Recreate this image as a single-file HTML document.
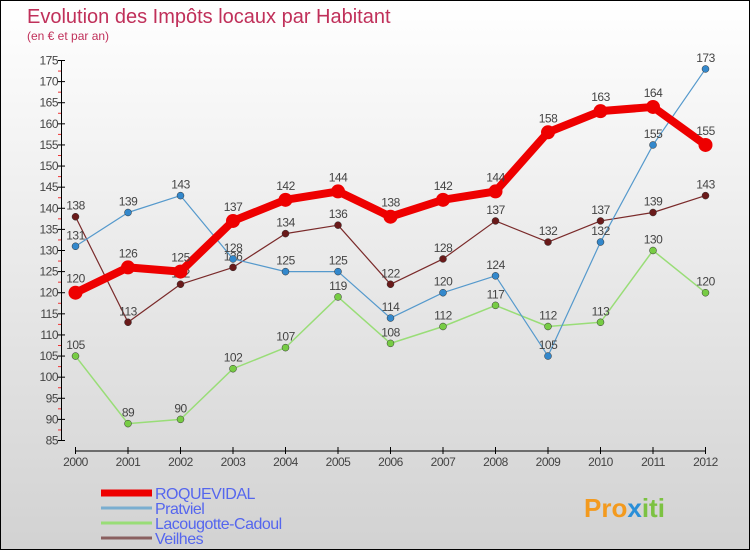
<!DOCTYPE html>
<html><head><meta charset="utf-8"><style>
body{margin:0;}
#c{width:748px;height:548px;border:1px solid #000;background:linear-gradient(#ffffff,#d2d2d2);position:relative;overflow:hidden;font-family:"Liberation Sans",sans-serif;}
text{font-family:"Liberation Sans",sans-serif;}
</style></head><body>
<div id="c">
<svg id="s" width="748" height="548" viewBox="0 0 748 548">
<text x="26" y="22" font-size="20" fill="#c0305a">Evolution des Impôts locaux par Habitant</text>
<text x="26" y="39" font-size="12" fill="#c0305a">(en € et par an)</text>
<g id="axes"></g><g id="series"></g><g id="legend"></g>
<text x="583" y="516" font-size="26" font-weight="bold" fill="#f39a1e">Pro<tspan fill="#2a8fd8">x</tspan><tspan fill="#7cc242">iti</tspan></text>
</svg></div>
<script>
const years=[2000,2001,2002,2003,2004,2005,2006,2007,2008,2009,2010,2011,2012];
const roquevidal=[120,126,125,137,142,144,138,142,144,158,163,164,155];
const pratviel=[131,139,143,128,125,125,114,120,124,105,132,155,173];
const lacougotte=[105,89,90,102,107,119,108,112,117,112,113,130,120];
const veilhes=[138,113,122,126,134,136,122,128,137,132,137,139,143];
const yTicks=[85,90,95,100,105,110,115,120,125,130,135,140,145,150,155,160,165,170,175];
const NS="http://www.w3.org/2000/svg";
const X=i=>74.5+i*52.5;
const Y=v=>59.5+(175-v)*380/90;
function mk(t,a,p){const e=document.createElementNS(NS,t);for(const k in a)e.setAttribute(k,a[k]);p.appendChild(e);return e;}
const ax=document.getElementById('axes');
let l=mk('line',{x1:60.5,y1:Y(175),x2:60.5,y2:Y(85),stroke:'#000'},ax);


yTicks.forEach((v,k)=>{
 mk('line',{x1:57,x2:64,y1:Y(v),y2:Y(v),stroke:'#000'},ax);
 if(k<yTicks.length-1) mk('line',{x1:57,x2:60,y1:Y(v+2.5),y2:Y(v+2.5),stroke:'#e33'},ax);
 const t=mk('text',{x:57,y:Y(v)+4,'font-size':12,fill:'#444','text-anchor':'end','letter-spacing':'-0.5'},ax);
 t.textContent=v;
 
 
});
l=mk('line',{x1:X(0),y1:450,x2:X(12),y2:450,stroke:'#000'},ax);


years.forEach((y,i)=>{
 mk('line',{x1:X(i),x2:X(i),y1:446,y2:453,stroke:'#000'},ax);
 const t=mk('text',{x:X(i),y:465,'font-size':12,fill:'#444','text-anchor':'middle','letter-spacing':'-0.5'},ax);
 t.textContent=y;
 
 
});
const defs=[
 {d:veilhes,c:'#7a2a2a',w:1.2,r:3.5,f:'#6a1a1a',n:'veilhes'},
 {d:lacougotte,c:'#99dd77',w:1.5,r:3.5,f:'#77cc44',n:'lacougotte-cadoul'},
 {d:pratviel,c:'#5599cc',w:1.2,r:3.5,f:'#3388cc',n:'pratviel'},
 {d:roquevidal,c:'#ee0000',w:8,r:7,f:'#ee0000',n:'roquevidal'}];
const sg=document.getElementById('series');
defs.forEach(s=>{
 const g=mk('g',{},sg);
 
 
 const p=mk('polyline',{points:s.d.map((v,i)=>X(i)+','+Y(v)).join(' '),fill:'none',stroke:s.c,'stroke-width':s.w,'stroke-linejoin':'round'},g);
 
 
 s.d.forEach((v,i)=>{
  const c=mk('circle',{cx:X(i),cy:Y(v),r:s.r,fill:s.f,stroke:s.w>2?'none':'#333','stroke-width':0.5},g);
  
  
  const t=mk('text',{x:X(i),y:Y(v)-(s.w>2?10:7),'font-size':12,fill:'#444','text-anchor':'middle','letter-spacing':'-0.5'},g);
  t.textContent=v;
  
  
 });
});
const lg=document.getElementById('legend');
[['ROQUEVIDAL','#ee0000',7],['Pratviel','#7aaed0',3],['Lacougotte-Cadoul','#99dd77',3],['Veilhes','#8a6060',3]].forEach((e,i)=>{
 const y=492+i*15;
 const g=mk('g',{},lg);
 
 
 mk('line',{x1:100,x2:151,y1:y,y2:y,stroke:e[1],'stroke-width':e[2]},g);
 const t=mk('text',{x:154,y:y+6,'font-size':16,fill:'#5566ee','letter-spacing':'-0.5'},g);
 t.textContent=e[0];
});
</script>
</body></html>
